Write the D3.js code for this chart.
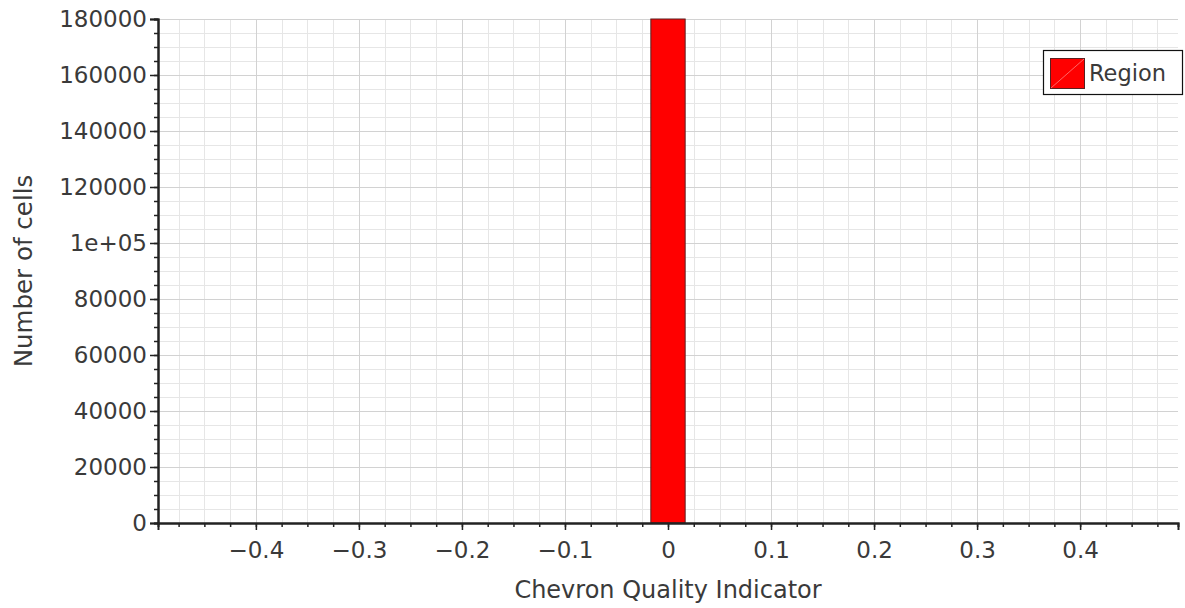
<!DOCTYPE html>
<html>
<head>
<meta charset="utf-8">
<script src="https://cdn.jsdelivr.net/npm/d3@7"></script>
<style>
  html, body { margin: 0; padding: 0; background: #fff; }
  svg { display: block; font-family: "DejaVu Sans", sans-serif; }
</style>
</head>
<body>
<svg id="chart" width="1185" height="608"></svg>
<script>
// Histogram of the Chevron Quality Indicator: bin centres and cell counts
const binCenters = [
  -0.4667, -0.4333, -0.4, -0.3667, -0.3333, -0.3, -0.2667, -0.2333, -0.2, -0.1667,
  -0.1333, -0.1, -0.0667, -0.0333, 0, 0.0333, 0.0667, 0.1, 0.1333, 0.1667,
  0.2, 0.2333, 0.2667, 0.3, 0.3333, 0.3667, 0.4, 0.4333, 0.4667
];
const cellCounts = [
  0, 0, 0, 0, 0, 0, 0, 0, 0, 0,
  0, 0, 0, 0, 180000, 0, 0, 0, 0, 0,
  0, 0, 0, 0, 0, 0, 0, 0, 0
];
const binWidth = 0.0333;
const seriesName = "Region";

const xTickValues = [-0.4, -0.3, -0.2, -0.1, 0, 0.1, 0.2, 0.3, 0.4];
const xTickLabels = ["\u22120.4", "\u22120.3", "\u22120.2", "\u22120.1", "0", "0.1", "0.2", "0.3", "0.4"];
const yTickValues = [0, 20000, 40000, 60000, 80000, 100000, 120000, 140000, 160000, 180000];
const yTickLabels = ["0", "20000", "40000", "60000", "80000", "1e+05", "120000", "140000", "160000", "180000"];
const xTitle = "Chevron Quality Indicator";
const yTitle = "Number of cells";

const svg = d3.select("#chart");
const plot = { left: 158, right: 1178, top: 19, bottom: 523 };
const textColor = "#3a3a3a";

const x = d3.scaleLinear().domain([-0.495, 0.495]).range([plot.left, plot.right]);
const y = d3.scaleLinear().domain([0, 180000]).range([plot.bottom, plot.top]);

const xMinor = d3.range(-0.475, 0.49, 0.025).map(v => Math.round(v * 1000) / 1000);
const yMinor = d3.range(0, 180001, 5000);

// grid: minor lines first, then major lines on top
const grid = svg.append("g");
grid.selectAll("line.xm").data(xMinor).join("line")
  .attr("x1", d => Math.round(x(d)) + 0.5).attr("x2", d => Math.round(x(d)) + 0.5)
  .attr("y1", plot.top).attr("y2", plot.bottom)
  .attr("stroke", "#e6e6e6").attr("stroke-width", 1);
grid.selectAll("line.ym").data(yMinor).join("line")
  .attr("y1", d => Math.round(y(d)) + 0.5).attr("y2", d => Math.round(y(d)) + 0.5)
  .attr("x1", plot.left).attr("x2", plot.right)
  .attr("stroke", "#e6e6e6").attr("stroke-width", 1);
grid.selectAll("line.xM").data(xTickValues).join("line")
  .attr("x1", d => Math.round(x(d)) + 0.5).attr("x2", d => Math.round(x(d)) + 0.5)
  .attr("y1", plot.top).attr("y2", plot.bottom)
  .attr("stroke", "#d2d2d2").attr("stroke-width", 1);
grid.selectAll("line.yM").data(yTickValues).join("line")
  .attr("y1", d => Math.round(y(d)) + 0.5).attr("y2", d => Math.round(y(d)) + 0.5)
  .attr("x1", plot.left).attr("x2", plot.right)
  .attr("stroke", "#d2d2d2").attr("stroke-width", 1);

// bars
const bins = binCenters.map((c, i) => ({ c, v: cellCounts[i] }));
svg.append("g").selectAll("rect").data(bins).join("rect")
  .attr("x", d => x(d.c - binWidth / 2))
  .attr("width", d => x(d.c + binWidth / 2) - x(d.c - binWidth / 2))
  .attr("y", d => y(d.v))
  .attr("height", d => y(0) - y(d.v))
  .attr("fill", "#ff0000")
  .attr("stroke", "#5a2020")
  .attr("stroke-width", 1);

// axes
const axisColor = "#222";
const xAxis = svg.append("g").attr("transform", `translate(0,${plot.bottom})`)
  .call(d3.axisBottom(x).tickValues(xMinor).tickSize(4).tickFormat(""));
const xAxisMajor = svg.append("g").attr("transform", `translate(0,${plot.bottom})`)
  .call(d3.axisBottom(x).tickValues(xTickValues).tickSize(7)
    .tickFormat((d, i) => xTickLabels[i]).tickPadding(12));
const yAxis = svg.append("g").attr("transform", `translate(${plot.left},0)`)
  .call(d3.axisLeft(y).tickValues(yMinor).tickSize(4).tickFormat(""));
const yAxisMajor = svg.append("g").attr("transform", `translate(${plot.left},0)`)
  .call(d3.axisLeft(y).tickValues(yTickValues).tickSize(8)
    .tickFormat((d, i) => yTickLabels[i]).tickPadding(3));

[xAxis, xAxisMajor, yAxis, yAxisMajor].forEach(g => {
  g.select(".domain").attr("stroke", axisColor).attr("stroke-width", 2);
  g.selectAll(".tick line").attr("stroke", axisColor).attr("stroke-width", 1.5);
  g.selectAll(".tick text").attr("fill", textColor).attr("font-size", 23)
    .attr("font-family", "DejaVu Sans, sans-serif");
});

// axis titles
svg.append("text")
  .attr("x", (plot.left + plot.right) / 2).attr("y", 598)
  .attr("text-anchor", "middle").attr("font-size", 24).attr("fill", textColor)
  .text(xTitle);
svg.append("text")
  .attr("transform", `translate(32,${(plot.top + plot.bottom) / 2}) rotate(-90)`)
  .attr("text-anchor", "middle").attr("font-size", 24.5).attr("fill", textColor)
  .text(yTitle);

// legend
const legend = svg.append("g");
legend.append("rect").attr("x", 1043.5).attr("y", 50.5).attr("width", 139).attr("height", 44)
  .attr("fill", "#fff").attr("stroke", "#111").attr("stroke-width", 1.2);
legend.append("rect").attr("x", 1050.5).attr("y", 58.5).attr("width", 34).attr("height", 30)
  .attr("fill", "#ff0000").attr("stroke", "#5a2020").attr("stroke-width", 1);
legend.append("line").attr("x1", 1051).attr("y1", 88).attr("x2", 1084).attr("y2", 59)
  .attr("stroke", "#ff8080").attr("stroke-width", 0.8);
legend.append("text").attr("x", 1089).attr("y", 81)
  .attr("font-size", 22.5).attr("fill", textColor).text(seriesName);
</script>
</body>
</html>
